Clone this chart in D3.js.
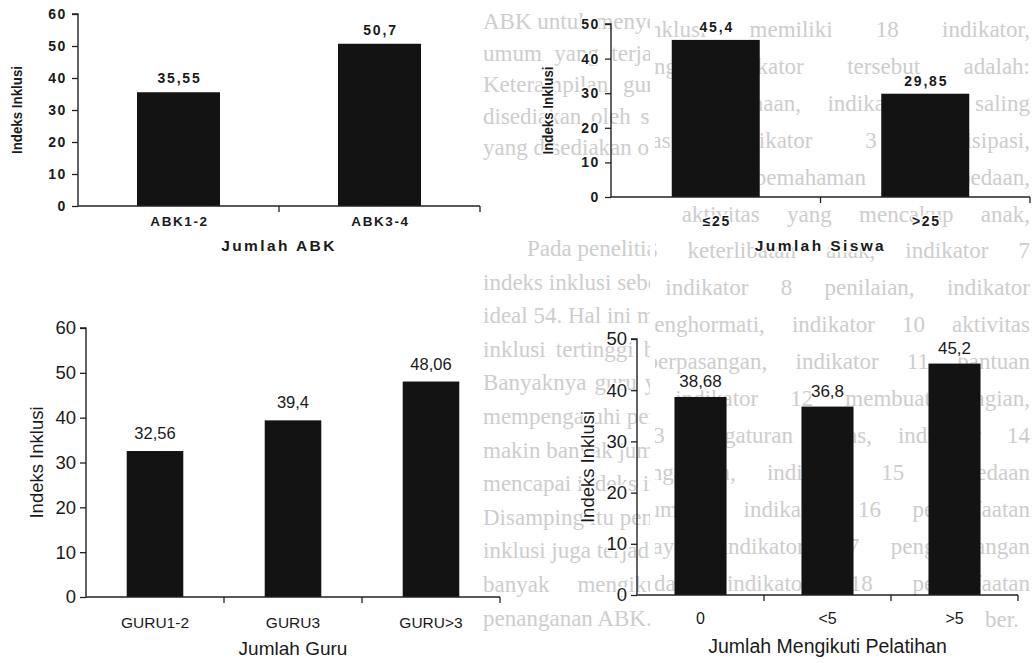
<!DOCTYPE html>
<html>
<head>
<meta charset="utf-8">
<script src="https://cdn.jsdelivr.net/npm/d3@7"></script>
<style>
  html, body { margin: 0; padding: 0; background: #ffffff; }
  svg { display: block; }
  .halo { paint-order: stroke; stroke: #ffffff; stroke-width: 3px; stroke-linejoin: round; }
</style>
</head>
<body>
<svg id="chart" width="1036" height="663"></svg>
<script>
// ---------------- data ----------------
const abkCategories = ["ABK1-2", "ABK3-4"];
const abkValues = [35.55, 50.7];
const abkValueLabels = ["35,55", "50,7"];
const abkTicks = [0, 10, 20, 30, 40, 50, 60];

const siswaCategories = ["\u226425", ">25"];
const siswaValues = [45.4, 29.85];
const siswaValueLabels = ["45,4", "29,85"];
const siswaTicks = [0, 10, 20, 30, 40, 50];

const guruCategories = ["GURU1-2", "GURU3", "GURU>3"];
const guruValues = [32.56, 39.4, 48.06];
const guruValueLabels = ["32,56", "39,4", "48,06"];
const guruTicks = [0, 10, 20, 30, 40, 50, 60];

const pelatihanCategories = ["0", "<5", ">5"];
const pelatihanValues = [38.68, 36.8, 45.2];
const pelatihanValueLabels = ["38,68", "36,8", "45,2"];
const pelatihanTicks = [0, 10, 20, 30, 40, 50];

const yTitle = "Indeks Inklusi";
const xTitles = ["Jumlah ABK", "Jumlah Siswa", "Jumlah Guru", "Jumlah Mengikuti Pelatihan"];

// faint page text of the scanned page behind the figures
const pageTextLeftTop = [
  "ABK untuk menyediakan guru khusus",
  "umum yang terjadi di sekolah",
  "Keterampilan guru khusus ini",
  "disediakan oleh sekolah sendiri",
  "yang disediakan oleh orangtua."
];
const pageTextLeftBottom = [
  "Pada penelitian ini ditemukan",
  "indeks inklusi sebesar 38,58 dengan",
  "ideal 54. Hal ini menunjukkan bahwa",
  "inklusi tertinggi baru mencapai",
  "Banyaknya guru yang mengajar",
  "mempengaruhi pencapaian indeks in",
  "makin banyak jumlah guru yang lebih",
  "mencapai indeks inklusi yang lebih",
  "Disamping itu pencapaian indeks",
  "inklusi juga terjadi pada guru yang",
  "banyak mengikuti pelatihan",
  "penanganan ABK."
];
const pageTextRight = [
  "ks inklusi memiliki 18 indikator,",
  "ng-masing indikator tersebut adalah:",
  "ator 1 perencanaan, indikator 2 saling",
  "ontinuitas, indikator 3 partisipasi,",
  "ator 4 pemahaman perbedaan,",
  "ator 5 aktivitas yang mencakup anak,",
  "ator 6 keterlibatan anak, indikator 7",
  "sama, indikator 8 penilaian, indikator",
  "ing menghormati, indikator 10 aktivitas",
  "atan berpasangan, indikator 11 bantuan",
  "njaran, indikator 12 membuat bagian,",
  "ator 13 pengaturan kelas, indikator 14",
  "er pengajaran, indikator 15 perbedaan",
  "gai sumber, indikator 16 pemanfaatan",
  "ber daya, indikator 17 pengembangan",
  "ber, dan indikator 18 pemanfaatan",
  "ber."
];

// ---------------- drawing ----------------
const svg = d3.select("#chart");
svg.append("rect").attr("width", 1036).attr("height", 663).attr("fill", "#ffffff");
const defs = svg.append("defs");
defs.append("clipPath").attr("id", "clipL").append("rect").attr("x", 480).attr("y", 0).attr("width", 170).attr("height", 663);
defs.append("clipPath").attr("id", "clipR").append("rect").attr("x", 655).attr("y", 0).attr("width", 381).attr("height", 663);

const serif = "'Liberation Serif', 'DejaVu Serif', serif";
const pageG = svg.append("g").attr("fill", "#cdcdcd")
  .style("font-family", serif).style("font-size", "23px");

function justify(sel, width) {
  sel.each(function(d) {
    const n = (d.match(/ +/g) || []).length;
    const w = this.getComputedTextLength();
    if (n > 0 && width > w) d3.select(this).attr("word-spacing", (width - w) / n);
  });
}

const lg = pageG.append("g").attr("clip-path", "url(#clipL)");
lg.selectAll("text.lt").data(pageTextLeftTop).join("text").attr("class", "lt")
  .attr("x", 483).attr("y", (d, i) => 29 + i * 31.5).text(d => d)
  .call(s => justify(s.filter((d, i) => i < pageTextLeftTop.length - 1), 300));
lg.selectAll("text.lb").data(pageTextLeftBottom).join("text").attr("class", "lb")
  .attr("x", (d, i) => i === 0 ? 527 : 483).attr("y", (d, i) => 256 + i * 33.6).text(d => d)
  .call(s => justify(s.filter((d, i) => i > 0 && i < pageTextLeftBottom.length - 1), 300));

const rg = pageG.append("g").attr("clip-path", "url(#clipR)");
rg.selectAll("text").data(pageTextRight).join("text")
  .attr("x", (d, i) => i === pageTextRight.length - 1 ? 985 : 580)
  .attr("y", (d, i) => 37 + i * 36.9)
  .text(d => d)
  .call(s => justify(s.filter((d, i) => i < pageTextRight.length - 1), 450));

function drawChart(cfg) {
  const g = svg.append("g");
  const y = d3.scaleLinear().domain([0, cfg.ticks[cfg.ticks.length - 1]]).range([cfg.y0, cfg.yTop]);
  const x = d3.scaleBand().domain(cfg.categories).range([cfg.x0, cfg.x1]).padding(0);
  const bw = x.bandwidth() * cfg.barFrac;
  const font = "'Liberation Sans', Arial, sans-serif";

  g.selectAll("rect.bar").data(cfg.values).join("rect")
    .attr("class", "bar")
    .attr("x", (d, i) => x(cfg.categories[i]) + (x.bandwidth() - bw) / 2)
    .attr("width", bw)
    .attr("y", d => y(d))
    .attr("height", d => y(0) - y(d))
    .attr("fill", "#131313");

  const yAxis = d3.axisLeft(y).tickValues(cfg.ticks).tickSize(6).tickPadding(cfg.tickPad).tickFormat(d3.format("d"));
  const ya = g.append("g").attr("transform", `translate(${cfg.x0},0)`).call(yAxis);
  ya.select(".domain").attr("stroke", "#222").attr("stroke-width", 1.4).attr("d", `M-6,${y(cfg.ticks[cfg.ticks.length-1])}H0V${y(0)}`);
  ya.selectAll(".tick line").attr("stroke", "#222").attr("stroke-width", 1.3);
  ya.selectAll(".tick text").attr("fill", "#1a1a1a").attr("class", "halo")
    .style("font-family", font)
    .style("font-size", cfg.tickSize + "px").style("font-weight", cfg.bold ? "bold" : "normal")
    .style("letter-spacing", cfg.bold ? "1.6px" : "0px");

  const bounds = cfg.categories.map(c => x(c)).concat([cfg.x1]);
  const xa = g.append("g");
  xa.append("line").attr("x1", cfg.x0).attr("x2", cfg.x1).attr("y1", y(0)).attr("y2", y(0))
    .attr("stroke", "#222").attr("stroke-width", 1.4);
  xa.selectAll("line.t").data(bounds.slice(1)).join("line").attr("class", "t")
    .attr("x1", d => d).attr("x2", d => d).attr("y1", y(0)).attr("y2", y(0) + 6)
    .attr("stroke", "#222").attr("stroke-width", 1.3);

  g.selectAll("text.cat").data(cfg.categories).join("text").attr("class", "cat halo")
    .attr("x", d => x(d) + x.bandwidth() / 2 + (cfg.bold ? 1 : 0))
    .attr("y", cfg.catY)
    .attr("text-anchor", "middle").attr("fill", "#1a1a1a")
    .style("font-family", font).style("font-size", cfg.catSize + "px")
    .style("font-weight", cfg.bold ? "bold" : "normal")
    .style("letter-spacing", cfg.bold ? "1.6px" : "0px")
    .text(d => d);

  g.selectAll("text.val").data(cfg.values).join("text").attr("class", "val halo")
    .attr("x", (d, i) => x(cfg.categories[i]) + x.bandwidth() / 2 + (cfg.bold ? 1 : 0))
    .attr("y", d => y(d) - cfg.valGap)
    .attr("text-anchor", "middle").attr("fill", "#1a1a1a")
    .style("font-family", font).style("font-size", cfg.valSize + "px")
    .style("font-weight", cfg.bold ? "bold" : "normal")
    .style("letter-spacing", cfg.bold ? "1.8px" : "0px")
    .text((d, i) => cfg.valueLabels[i]);

  g.append("text").attr("class", "halo").attr("x", (cfg.x0 + cfg.x1) / 2).attr("y", cfg.titleY)
    .attr("text-anchor", "middle").attr("fill", "#1a1a1a")
    .style("font-family", font).style("font-size", cfg.titleSize + "px")
    .style("font-weight", cfg.bold ? "bold" : "normal")
    .style("letter-spacing", cfg.bold ? "2.4px" : "0px")
    .text(cfg.title);

  const yt = g.append("text").attr("class", "halo")
    .attr("transform", `translate(${cfg.yLabelX},${(y(0) + y(cfg.ticks[cfg.ticks.length-1])) / 2}) rotate(-90)`)
    .attr("text-anchor", "middle").attr("dominant-baseline", "central").attr("fill", "#1a1a1a")
    .style("font-family", font).style("font-size", cfg.ySize + "px")
    .style("font-weight", cfg.bold ? "bold" : "normal")
    .text(yTitle);
  if (cfg.yLen) yt.attr("textLength", cfg.yLen).attr("lengthAdjust", "spacingAndGlyphs");
}

drawChart({ categories: abkCategories, values: abkValues, valueLabels: abkValueLabels, ticks: abkTicks,
  x0: 78, x1: 480, y0: 206, yTop: 14, barFrac: 0.413, bold: true,
  tickSize: 14, tickPad: 5, catSize: 13.5, catY: 226, valSize: 14, valGap: 9,
  title: xTitles[0], titleSize: 15.5, titleY: 251, yLabelX: 17, ySize: 14, yLen: 88 });

drawChart({ categories: siswaCategories, values: siswaValues, valueLabels: siswaValueLabels, ticks: siswaTicks,
  x0: 611, x1: 1030, y0: 197, yTop: 24, barFrac: 0.42, bold: true,
  tickSize: 14, tickPad: 5, catSize: 14, catY: 226, valSize: 14, valGap: 8,
  title: xTitles[1], titleSize: 15.5, titleY: 251, yLabelX: 548, ySize: 14, yLen: 88 });

drawChart({ categories: guruCategories, values: guruValues, valueLabels: guruValueLabels, ticks: guruTicks,
  x0: 86, x1: 500, y0: 597, yTop: 328, barFrac: 0.41, bold: false,
  tickSize: 18.5, tickPad: 4, catSize: 15.5, catY: 628, valSize: 16.5, valGap: 12,
  title: xTitles[2], titleSize: 19, titleY: 655, yLabelX: 36, ySize: 18.5 });

drawChart({ categories: pelatihanCategories, values: pelatihanValues, valueLabels: pelatihanValueLabels, ticks: pelatihanTicks,
  x0: 637, x1: 1018, y0: 595, yTop: 339, barFrac: 0.41, bold: false,
  tickSize: 18.5, tickPad: 4, catSize: 16, catY: 624, valSize: 17, valGap: 10,
  title: xTitles[3], titleSize: 19.5, titleY: 653, yLabelX: 587, ySize: 18.5 });
</script>
</body>
</html>
